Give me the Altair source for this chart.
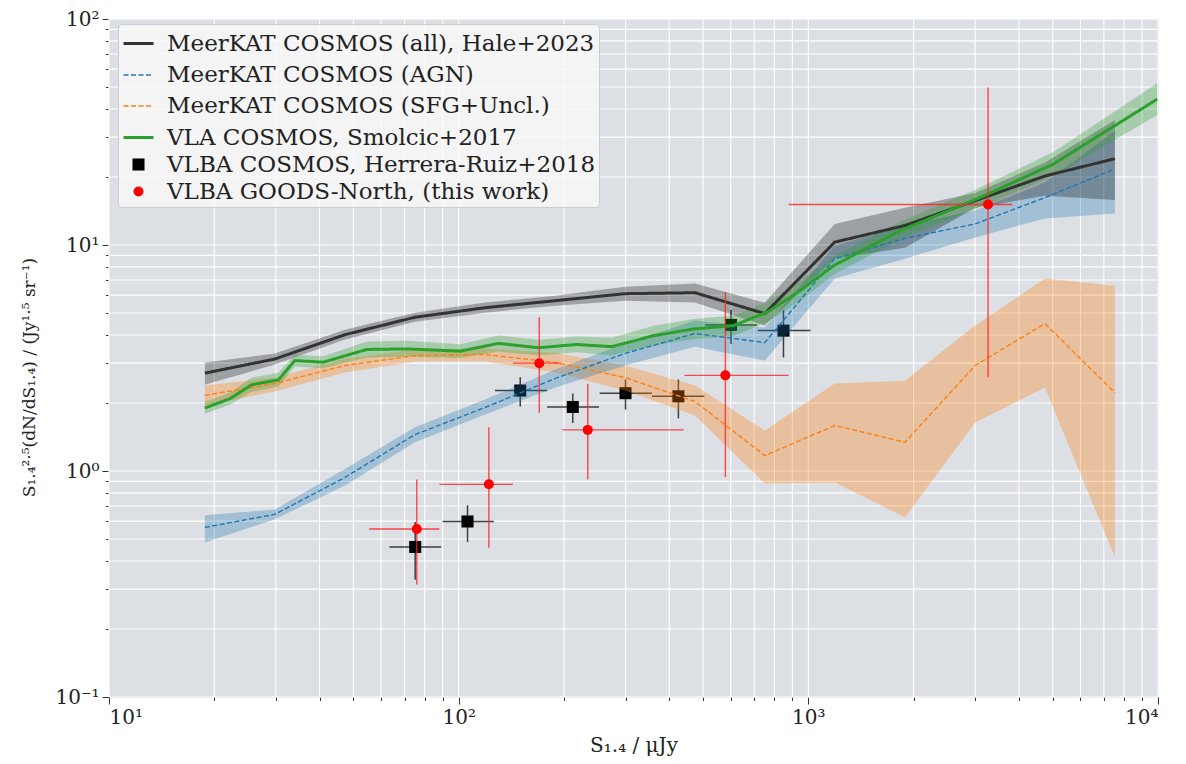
import altair as alt
import pandas as pd

# ---------------- data ----------------
series_names = [
    "MeerKAT COSMOS (all), Hale+2023",
    "MeerKAT COSMOS (AGN)",
    "MeerKAT COSMOS (SFG+Uncl.)",
    "VLA COSMOS, Smolcic+2017",
    "VLBA COSMOS, Herrera-Ruiz+2018",
    "VLBA GOODS-North, (this work)",
]
series_colors = ["#333333", "#1f77b4", "#ff7f0e", "#2ca02c", "#000000", "#ff0000"]

mk_x = [18.8, 29.8, 47.3, 75.0, 119, 189, 299, 474, 751, 1190, 1890, 3000, 4750, 7530]
all_y = [2.71, 3.13, 4.01, 4.79, 5.28, 5.67, 6.09, 6.15, 4.97, 10.3, 12.2, 15.7, 20.2, 24.1]
all_hi = [3.02, 3.31, 4.22, 5.02, 5.56, 5.97, 6.54, 6.75, 5.56, 12.4, 14.6, 17.0, 23.2, 35.7]
all_lo = [2.41, 2.96, 3.82, 4.58, 5.02, 5.39, 5.67, 5.56, 4.40, 8.70, 9.73, 14.6, 16.5, 15.8]

agn_y = [0.563, 0.643, 0.937, 1.45, 1.91, 2.57, 3.31, 4.06, 3.70, 8.70, 10.7, 12.4, 16.2, 21.7]
agn_hi = [0.637, 0.676, 1.02, 1.56, 2.07, 2.81, 3.66, 4.63, 4.31, 9.93, 12.2, 14.2, 18.9, 32.0]
agn_lo = [0.483, 0.611, 0.863, 1.34, 1.78, 2.34, 2.93, 3.55, 3.08, 7.10, 8.70, 10.8, 13.1, 13.8]

sfg_y = [2.16, 2.44, 2.93, 3.24, 3.28, 3.02, 2.59, 2.03, 1.17, 1.59, 1.34, 2.93, 4.49, 2.22]
sfg_hi = [2.39, 2.59, 3.14, 3.45, 3.48, 3.34, 2.93, 2.39, 1.51, 2.44, 2.51, 4.40, 7.10, 6.61]
sfg_lo = [1.95, 2.25, 2.73, 3.05, 3.05, 2.73, 2.27, 1.76, 0.88, 0.89, 0.624, 1.64, 2.34, 0.415]

vla_x = [18.8, 22.2, 25.6, 30.5, 34.0, 41.0, 54.6, 71.1, 101, 130, 169, 218, 274, 361,
         470, 610, 762, 948, 1180, 1835, 3040, 5020, 9950]
vla_y = [1.90, 2.09, 2.41, 2.53, 3.08, 3.03, 3.45, 3.47, 3.39, 3.67, 3.51, 3.63, 3.55, 3.97,
         4.25, 4.40, 5.04, 6.28, 8.10, 11.6, 16.0, 22.8, 44.2]
vla_hi = [2.02, 2.22, 2.59, 2.72, 3.27, 3.22, 3.74, 3.77, 3.64, 3.98, 3.81, 3.94, 3.89, 4.39,
          4.70, 4.87, 5.58, 6.95, 8.88, 12.7, 17.7, 25.8, 52.0]
vla_lo = [1.79, 1.97, 2.24, 2.36, 2.90, 2.85, 3.18, 3.20, 3.16, 3.38, 3.24, 3.35, 3.24, 3.59,
          3.84, 3.97, 4.55, 5.67, 7.39, 10.6, 14.5, 20.2, 37.6]

hr_x = [75.1, 106, 150, 212, 300, 425, 601, 849]
hr_y = [0.461, 0.598, 2.27, 1.92, 2.21, 2.14, 4.43, 4.18]
hr_xlo = [63.4, 89.9, 127, 179, 253, 357, 507, 717]
hr_xhi = [89.1, 126, 179, 252, 357, 504, 713, 1014]
hr_ylo = [0.33, 0.485, 1.93, 1.63, 1.87, 1.71, 3.65, 3.18]
hr_yhi = [0.594, 0.705, 2.60, 2.20, 2.54, 2.54, 5.16, 5.16]

gn_x = [75.9, 122, 170, 234, 579, 3266]
gn_y = [0.554, 0.873, 3.00, 1.52, 2.65, 15.1]
gn_xlo = [55.5, 88.1, 143, 198, 442, 879]
gn_xhi = [88.1, 143, 196, 440, 879, 3830]
gn_ylo = [0.315, 0.458, 1.81, 0.916, 0.94, 2.60]
gn_yhi = [0.918, 1.56, 4.79, 2.43, 6.18, 49.7]

x_ticks = [m * 10 ** e for e in (1, 2, 3) for m in range(1, 10)] + [10000]
y_ticks = [round(m * 10.0 ** e, 6) for e in (-1, 0, 1) for m in range(1, 10)] + [100]

# ---------------- tables ----------------
def band_df(x, lo, hi, col):
    return pd.DataFrame({"x": x, "lo": lo, "hi": hi, "bc": col})

bands = pd.concat([
    band_df(mk_x, sfg_lo, sfg_hi, "#ff7f0e"),
    band_df(mk_x, agn_lo, agn_hi, "#1f77b4"),
    band_df(mk_x, all_lo, all_hi, "#000000"),
    band_df(vla_x, vla_lo, vla_hi, "#2ca02c"),
])
band_op = {"#ff7f0e": 0.32, "#1f77b4": 0.3, "#000000": 0.28, "#2ca02c": 0.3}
bands["op"] = bands["bc"].map(band_op)

lines = pd.concat([
    pd.DataFrame({"x": mk_x, "y": sfg_y, "series": series_names[2]}),
    pd.DataFrame({"x": mk_x, "y": agn_y, "series": series_names[1]}),
    pd.DataFrame({"x": mk_x, "y": all_y, "series": series_names[0]}),
    pd.DataFrame({"x": vla_x, "y": vla_y, "series": series_names[3]}),
])
hr = pd.DataFrame({"x": hr_x, "y": hr_y, "xlo": hr_xlo, "xhi": hr_xhi,
                   "ylo": hr_ylo, "yhi": hr_yhi, "series": series_names[4]})
gn = pd.DataFrame({"x": gn_x, "y": gn_y, "xlo": gn_xlo, "xhi": gn_xhi,
                   "ylo": gn_ylo, "yhi": gn_yhi, "series": series_names[5]})
xgrid = pd.DataFrame({"gx": x_ticks})
ygrid = pd.DataFrame({"gy": y_ticks})

# ---------------- scales / axes ----------------
FONT = "DejaVu Serif"
W, H = 1049, 678
xscale = alt.Scale(type="log", domain=[10, 10000], nice=False)
yscale = alt.Scale(type="log", domain=[0.1, 100], nice=False)

x_major = "indexof([10,100,1000,10000], datum.value) >= 0"
y_major = "indexof([0.1,1,10,100], datum.value) >= 0"

x_axis = alt.Axis(
    values=x_ticks, grid=False, domain=False,
    labelExpr="datum.value == 10 ? '10¹' : datum.value == 100 ? '10²' : datum.value == 1000 ? '10³' : datum.value == 10000 ? '10⁴' : ''",
    labelOverlap=False, labelFont=FONT, labelFontSize=20, labelColor="#222",
    labelPadding=3,
    tickColor="#333", tickWidth=1,
    tickSize={"condition": {"test": x_major, "value": 7}, "value": 3.5},
    title="S₁.₄ / μJy", titleFont=FONT, titleFontSize=20, titleFontWeight="normal",
    titleColor="#222", titleY=48, titleBaseline="middle",
)
y_axis = alt.Axis(
    values=y_ticks, grid=False, domain=False,
    labelExpr="datum.value == 0.1 ? '10⁻¹' : datum.value == 1 ? '10⁰' : datum.value == 10 ? '10¹' : datum.value == 100 ? '10²' : ''",
    labelOverlap=False, labelFont=FONT, labelFontSize=20, labelColor="#222",
    labelPadding=3,
    tickColor="#333", tickWidth=1,
    tickSize={"condition": {"test": y_major, "value": 7}, "value": 3.5},
    title="S₁.₄²·⁵(dN/dS₁.₄) / (Jy¹·⁵ sr⁻¹)", titleFont=FONT, titleFontSize=17,
    titleFontWeight="normal", titleColor="#222", titleX=-80, titleY=358,
    titleAngle=270, titleBaseline="middle", titleAlign="center",
)

color = alt.Color("series:N", scale=alt.Scale(domain=series_names, range=series_colors),
                  title=None,
                  legend=alt.Legend(orient="none", legendX=9, legendY=5,
                                    fillColor="rgba(248,248,248,0.85)",
                                    strokeColor="#cccccc", cornerRadius=4, padding=3,
                                    labelFont=FONT, labelFontSize=23, labelColor="#222",
                                    labelLimit=700, rowPadding=3, symbolOffset=1,
                                    labelOffset=12))
shape = alt.Shape("series:N", title=None,
                  scale=alt.Scale(domain=series_names,
                                  range=["stroke", "stroke", "stroke", "stroke", "square", "circle"]))
dash = alt.StrokeDash("series:N", title=None,
                      scale=alt.Scale(domain=series_names,
                                      range=[[1, 0], [5, 2.5], [5, 2.5], [1, 0], [1, 0], [1, 0]]))
swidth = alt.StrokeWidth("series:N", title=None,
                         scale=alt.Scale(type="ordinal", domain=series_names,
                                         range=[3, 1.4, 1.4, 3, 0, 0]))
size = alt.Size("series:N", title=None,
                scale=alt.Scale(type="ordinal", domain=series_names,
                                range=[900, 900, 900, 900, 145, 100]))

X = alt.X("x:Q", scale=xscale, axis=x_axis)
Y = alt.Y("y:Q", scale=yscale, axis=y_axis)

# plot-area background
bg = alt.Chart(pd.DataFrame({"k": [0]})).mark_rect(color="#dcdfe3").encode(
    x=alt.value(0), x2=alt.value(W), y=alt.value(0), y2=alt.value(H))

# white grid lines (drawn from the tick lists through the scales)
xgrid_layer = alt.Chart(xgrid).mark_rule(color="#ffffff", strokeWidth=1.1).encode(
    x=alt.X("gx:Q", scale=xscale, axis=x_axis))
ygrid_layer = alt.Chart(ygrid).mark_rule(color="#ffffff", strokeWidth=1.1).encode(
    y=alt.Y("gy:Q", scale=yscale, axis=y_axis))

# Herrera-Ruiz error bars and squares (drawn under the bands)
hr_xerr = alt.Chart(hr).mark_rule(color="#222", strokeWidth=1.5, opacity=0.85).encode(
    x=alt.X("xlo:Q", scale=xscale), x2="xhi:Q", y=alt.Y("y:Q", scale=yscale))
hr_yerr = alt.Chart(hr).mark_rule(color="#222", strokeWidth=1.5, opacity=0.85).encode(
    x=alt.X("x:Q", scale=xscale), y=alt.Y("ylo:Q", scale=yscale), y2="yhi:Q")
hr_pts = alt.Chart(hr).mark_point(filled=True, opacity=1, strokeWidth=0).encode(
    x=X, y=Y, color=color, shape=shape, size=size)

band_layer = alt.Chart(bands).mark_area(strokeWidth=0).encode(
    x=alt.X("x:Q", scale=xscale),
    y=alt.Y("lo:Q", scale=yscale),
    y2="hi:Q",
    fill=alt.Fill("bc:N", scale=None),
    opacity=alt.Opacity("op:Q", scale=None),
    detail="bc:N",
)

line_layer = alt.Chart(lines).mark_line().encode(
    x=X, y=Y, color=color, strokeDash=dash, strokeWidth=swidth, order="x:Q")

gn_xerr = alt.Chart(gn).mark_rule(color="#ff2020", strokeWidth=1.4, opacity=0.8).encode(
    x=alt.X("xlo:Q", scale=xscale), x2="xhi:Q", y=alt.Y("y:Q", scale=yscale))
gn_yerr = alt.Chart(gn).mark_rule(color="#ff2020", strokeWidth=1.4, opacity=0.8).encode(
    x=alt.X("x:Q", scale=xscale), y=alt.Y("ylo:Q", scale=yscale), y2="yhi:Q")
gn_pts = alt.Chart(gn).mark_point(filled=True, opacity=1, strokeWidth=0).encode(
    x=X, y=Y, color=color, shape=shape, size=size)

chart = alt.layer(
    bg, xgrid_layer, ygrid_layer,
    hr_xerr, hr_yerr, hr_pts, band_layer, line_layer, gn_xerr, gn_yerr, gn_pts
).properties(
    width=W, height=H,
    autosize=alt.AutoSizeParams(type="none"),
    padding={"left": 101, "top": 11, "right": 20, "bottom": 66},
).configure_view(stroke=None).configure(background="white")

chart.save("out.html", embed_options={"renderer": "svg", "actions": False})
